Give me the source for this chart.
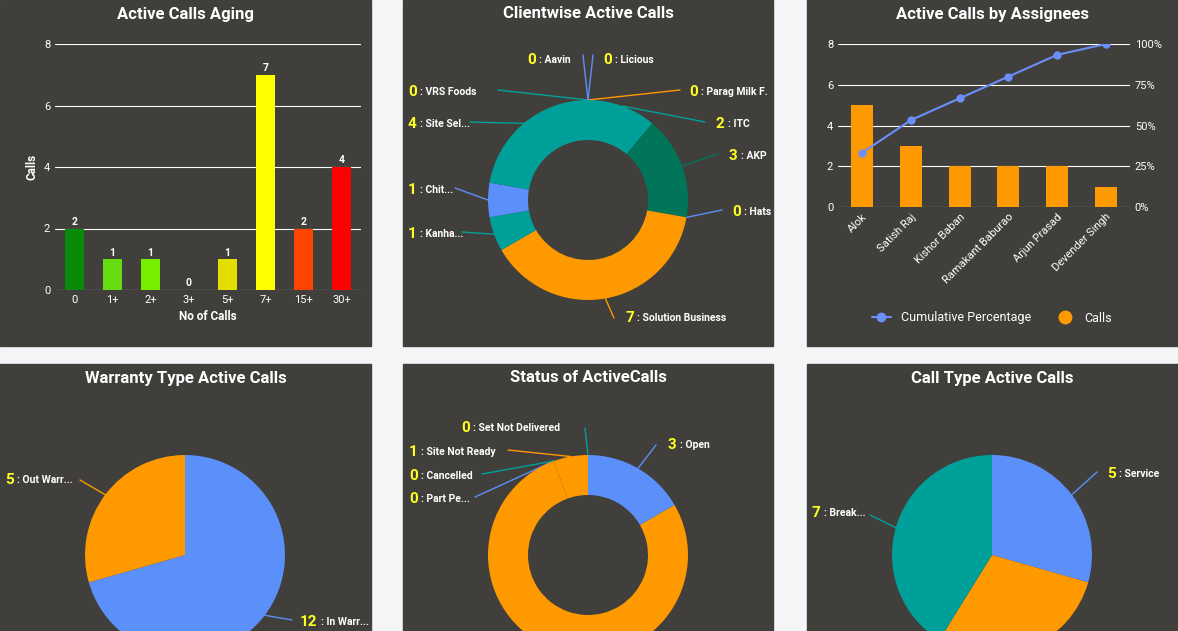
import numpy as np, pandas as pd, matplotlib
matplotlib.use("Agg")
import matplotlib.pyplot as plt, seaborn as sns
from matplotlib.lines import Line2D

sns.set_theme(style="dark")
plt.rcParams['font.family'] = ['Roboto', 'DejaVu Sans']

aging_cats = ["0", "1+", "2+", "3+", "5+", "7+", "15+", "30+"]
aging_vals = [2, 1, 1, 0, 1, 7, 2, 4]
aging_cols = ["#0a8a0a", "#66dd11", "#77ee00", "#cccc00", "#e6dd00", "#ffff00", "#ff4400", "#ff0000"]

client_names = ["Licious", "Parag Milk F.", "ITC", "AKP", "Hats", "Solution Business", "Kanha...", "Chit...", "Site Sel...", "VRS Foods", "Aavin"]
client_vals = [0, 0, 2, 3, 0, 7, 1, 1, 4, 0, 0]
client_cols = ["#5b8ff9", "#ff9900", "#00a09a", "#007559", "#5b8ff9", "#ff9900", "#00a09a", "#5b8ff9", "#00a09a", "#00a09a", "#5b8ff9"]

assignees = ["Alok", "Satish Raj", "Kishor Baban", "Ramakant Baburao", "Arjun Prasad", "Devender Singh"]
assignee_calls = [5, 3, 2, 2, 2, 1]

warranty_names = ["In Warr...", "Out Warr..."]
warranty_vals = [12, 5]
status_names = ["Open", "In Progress", "Part Pe...", "Cancelled", "Site Not Ready", "Set Not Delivered"]
status_vals = [3, 14, 0, 0, 1, 0]
status_cols = ["#5b8ff9", "#ff9900", "#5b8ff9", "#00a09a", "#ff9900", "#00a09a"]
calltype_names = ["Service", "Installation", "Break..."]
calltype_vals = [5, 5, 7]

W, H = 1178, 631
fig = plt.figure(figsize=(W/100, H/100), dpi=100)
fig.patch.set_facecolor("#f4f5f7")
ov = fig.add_axes([0, 0, 1, 1], zorder=0)
ov.set_xlim(0, W); ov.set_ylim(H, 0); ov.axis("off")
PANEL = "#403f3c"
panels = [(0, 0, 371, 346), (403, 0, 773, 346), (807, 0, 1178, 346),
          (0, 364, 371, 700), (403, 364, 773, 700), (807, 364, 1178, 700)]
titles = ["Active Calls Aging", "Clientwise Active Calls", "Active Calls by Assignees",
          "Warranty Type Active Calls", "Status of ActiveCalls", "Call Type Active Calls"]
for (x0, y0, x1, y1), t in zip(panels, titles):
    ov.add_patch(plt.Rectangle((x0, y0), x1-x0, y1-y0, color=PANEL, zorder=0))
    ov.text((x0+x1)/2, y0+14, t, color="white", fontsize=12, fontweight="bold", ha="center", va="center")

def ax_px(x0, y0, x1, y1, **kw):
    return fig.add_axes([x0/W, 1-y1/H, (x1-x0)/W, (y1-y0)/H], **kw)

def style(ax):
    ax.set_facecolor("none")
    for s in ax.spines.values(): s.set_visible(False)
    ax.tick_params(colors="white", labelsize=8, length=0)
    ax.grid(axis="y", color="white", lw=0.8); ax.set_axisbelow(True)

# Aging bars
a1 = ax_px(55, 44, 361, 290)
df = pd.DataFrame({"cat": aging_cats, "val": aging_vals})
sns.barplot(data=df, x="cat", y="val", hue="cat", palette=aging_cols, legend=False, width=0.5,
            saturation=1, linewidth=0, ax=a1)
style(a1); a1.set_ylim(0, 8); a1.set_yticks([0, 2, 4, 6, 8])
for i, v in enumerate(aging_vals):
    a1.text(i, v+0.12, str(v), color="white", fontsize=7.5, fontweight="bold", ha="center")
a1.set_xlabel("No of Calls", color="white", fontsize=8.5, fontweight="bold")
a1.set_ylabel("Calls", color="white", fontsize=8.5, fontweight="bold")

# Pareto
a3 = ax_px(838, 44, 1130, 207)
dfa = pd.DataFrame({"name": assignees, "calls": assignee_calls})
sns.barplot(data=dfa, x="name", y="calls", color="#ff9900", width=0.45, saturation=1, linewidth=0, ax=a3)
style(a3); a3.set_ylim(0, 8); a3.set_yticks([0, 2, 4, 6, 8]); a3.set_xlabel(""); a3.set_ylabel("")
a3.set_xticks(range(len(assignees))); a3.set_xticklabels(assignees, rotation=45, ha="right", rotation_mode="anchor")
a3b = a3.twinx()
cum = np.cumsum(assignee_calls) / np.sum(assignee_calls) * 100
sns.lineplot(x=list(range(len(assignees))), y=cum, ax=a3b, color="#6b8ff8", marker="o", markersize=6, markeredgewidth=0, lw=1.5)
a3b.set_ylim(0, 100); a3b.set_yticks([0, 25, 50, 75, 100])
a3b.set_yticklabels(["0%", "25%", "50%", "75%", "100%"])
for s in a3b.spines.values(): s.set_visible(False)
a3b.tick_params(colors="white", labelsize=8, length=0); a3b.grid(False)
ov.legend(handles=[Line2D([], [], color="#6b8ff8", marker="o", lw=1.5, label="Cumulative Percentage"),
                   Line2D([], [], color="#ff9900", marker="o", lw=0, markersize=9, label="Calls")],
          loc="center", bbox_to_anchor=(992/W, 1-318/H), bbox_transform=fig.transFigure, ncol=2,
          frameon=False, labelcolor="white", fontsize=9, handlelength=1.5, columnspacing=2)

def pie(cx, cy, r, vals, cols, hole=None):
    ax = ax_px(cx-r, cy-r, cx+r, cy+r)
    wp = dict(linewidth=0)
    if hole: wp["width"] = 1-hole
    wedges, _ = ax.pie(vals, colors=cols, startangle=90, counterclock=False, radius=1, wedgeprops=wp)
    ax.set_xlim(-1, 1); ax.set_ylim(-1, 1); ax.set_aspect("equal")
    ax.set_facecolor("none")
    return [np.deg2rad((w.theta1 + w.theta2)/2) for w in wedges]

def label(num, name, tx, ty, ex, ey, ang, cx, cy, r, col):
    px, py = cx + r*np.cos(ang), cy - r*np.sin(ang)
    ov.plot([px, ex], [py, ey], color=col, lw=1, zorder=5)
    ov.text(tx, ty, str(num), color="#ffff22", fontsize=11, fontweight="bold", va="center", zorder=6)
    ov.text(tx + 9*len(str(num)) + 3, ty, ": " + name, color="white", fontsize=7.5, fontweight="bold", va="center", zorder=6)

# Clientwise donut
angs = pie(588, 200, 100, client_vals, client_cols, hole=0.6)
cpos = [(603, 60, 593, 55), (689, 92, 680, 90), (716, 124, 705, 122), (729, 156, 718, 154),
        (732, 212, 722, 210), (625, 318, 614, 318), (408, 234, 462, 232), (408, 190, 455, 188),
        (408, 124, 470, 122), (408, 92, 498, 90), (527, 60, 583, 55)]
for n, v, c, a, (tx, ty, ex, ey) in zip(client_names, client_vals, client_cols, angs, cpos):
    label(v, n, tx, ty, ex, ey, a, 588, 200, 100, c)

# Warranty pie
angs = pie(185, 555, 100, warranty_vals, ["#5b8ff9", "#ff9900"])
wpos = [(300, 622, 292, 620), (5, 480, 80, 480)]
for n, v, c, a, (tx, ty, ex, ey) in zip(warranty_names, warranty_vals, ["#5b8ff9", "#ff9900"], angs, wpos):
    label(v, n, tx, ty, ex, ey, a, 185, 555, 100, c)

# Status donut
angs = pie(588, 555, 100, status_vals, status_cols, hole=0.6)
spos = [(668, 445, 656, 445), None, (409, 499, 475, 497), (409, 476, 482, 474), (409, 452, 508, 450), (461, 428, 585, 428)]
for n, v, c, a, p in zip(status_names, status_vals, status_cols, angs, spos):
    if p: label(v, n, *p, a, 588, 555, 100, c)

# Call type pie
ccols = ["#5b8ff9", "#ff9900", "#00a09a"]
angs = pie(992, 555, 100, calltype_vals, ccols)
kpos = [(1107, 474, 1097, 472), None, (812, 513, 870, 515)]
for n, v, c, a, p in zip(calltype_names, calltype_vals, ccols, angs, kpos):
    if p: label(v, n, *p, a, 992, 555, 100, c)

fig.savefig("out.png", dpi=100, facecolor=fig.get_facecolor())
